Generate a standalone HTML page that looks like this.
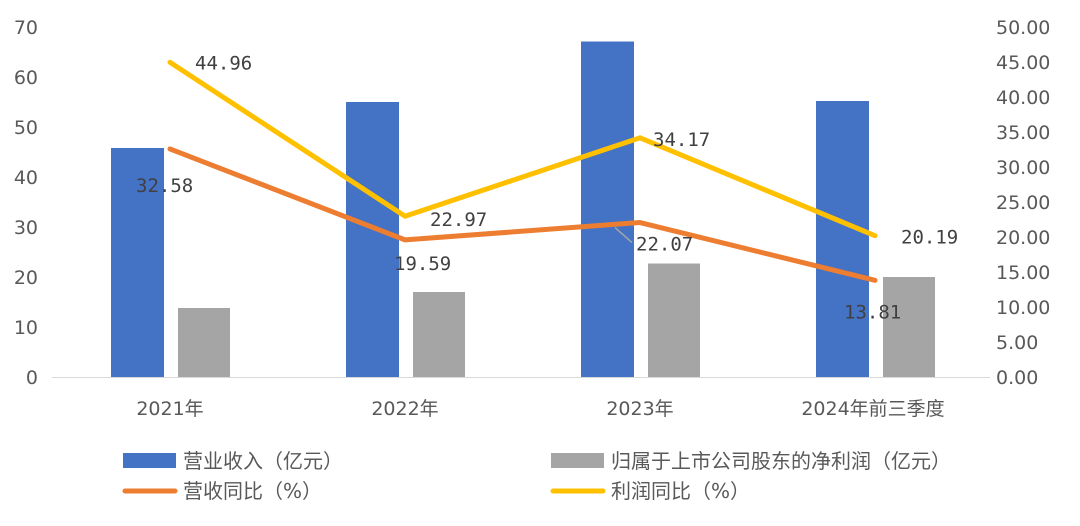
<!DOCTYPE html>
<html><head><meta charset="utf-8"><style>
body{margin:0;background:#fff;}
svg{display:block;font-family:"DejaVu Sans","Noto Sans CJK SC",sans-serif;}
</style></head><body>
<svg id="c" width="1080" height="526"></svg>
<script>
const categories=["2021年","2022年","2023年","2024年前三季度"];
const revenue=[45.8,55.0,67.1,55.2];
const profit=[13.8,17.0,22.7,20.0];
const revGrowth=[32.58,19.59,22.07,13.81];
const profitGrowth=[44.96,22.97,34.17,20.19];
const leftTicks=[0,10,20,30,40,50,60,70];
const rightTicks=["0.00","5.00","10.00","15.00","20.00","25.00","30.00","35.00","40.00","45.00","50.00"];
const revLabelOff=[[-34,43],[-11,30],[-4,28],[-31,38]];
const profLabelOff=[[25,0],[25,3],[13,1],[26,1]];

const NS="http://www.w3.org/2000/svg",svg=document.getElementById('c');
function el(t,a,txt){const e=document.createElementNS(NS,t);for(const k in a)e.setAttribute(k,a[k]);if(txt!=null)e.textContent=txt;svg.appendChild(e);return e;}
const y0=377,yTop=27;
const yL=v=>y0-(v/70)*(y0-yTop);
const yR=v=>y0-(v/50)*(y0-yTop);
const xC=i=>170+i*235;

leftTicks.forEach(t=>{const e=el('text',{x:38,y:yL(t)+7,'text-anchor':'end','font-size':19,fill:'#595959'},t);
});
rightTicks.forEach(t=>{const e=el('text',{x:996,y:yR(+t)+7,'font-size':19,fill:'#595959'},t);
});
const ax=el('line',{x1:52,x2:990,y1:y0+0.5,y2:y0+0.5,stroke:'#d9d9d9','stroke-width':1});


categories.forEach((c,i)=>{
 const b=el('rect',{x:xC(i)-59,y:yL(revenue[i]),width:53,height:y0-yL(revenue[i]),fill:'#4472c4'});
 
 const g=el('rect',{x:xC(i)+8,y:yL(profit[i]),width:52,height:y0-yL(profit[i]),fill:'#a5a5a5'});
 
 const t=el('text',{x:xC(i)+(i===3?-2:0),y:415,'text-anchor':'middle','font-size':19,fill:'#595959'},c);
 
});
function line(vals,color,name){
 const p=el('polyline',{points:vals.map((v,i)=>xC(i)+','+yR(v)).join(' '),fill:'none',stroke:color,'stroke-width':5,'stroke-linejoin':'round','stroke-linecap':'round'});
 
}
line(revGrowth,'#ed7d31','revenue-growth-line');
line(profitGrowth,'#ffc000','profit-growth-line');
const ll=el('line',{x1:xC(2)-25,y1:yR(revGrowth[2])+5,x2:xC(2)-8,y2:yR(revGrowth[2])+20,stroke:'#a5a5a5','stroke-width':1.5});

revGrowth.forEach((v,i)=>{const t=el('text',{x:xC(i)+revLabelOff[i][0],y:yR(v)+revLabelOff[i][1],'font-size':19,fill:'#404040','font-family':'DejaVu Sans Mono,monospace'},v.toFixed(2));
 });
profitGrowth.forEach((v,i)=>{const t=el('text',{x:xC(i)+profLabelOff[i][0],y:yR(v)+profLabelOff[i][1]+7,'font-size':19,fill:'#404040','font-family':'DejaVu Sans Mono,monospace'},v.toFixed(2));
 });

function legend(x,y,type,color,label,name){
 let s;
 if(type==='box') s=el('rect',{x:x,y:y-8,width:53,height:15,fill:color});
 else s=el('line',{x1:x+2,x2:x+52,y1:y,y2:y,stroke:color,'stroke-width':5,'stroke-linecap':'round'});
 
 const t=el('text',{x:x+60,y:y+7,'font-size':20,fill:'#595959'},label);
 
}
legend(123,461,'box','#4472c4','营业收入（亿元）','legend-revenue');
legend(551,461,'box','#a5a5a5','归属于上市公司股东的净利润（亿元）','legend-profit');
legend(123,491,'line','#ed7d31','营收同比（%）','legend-revenue-growth');
legend(551,491,'line','#ffc000','利润同比（%）','legend-profit-growth');
</script>
</body></html>
